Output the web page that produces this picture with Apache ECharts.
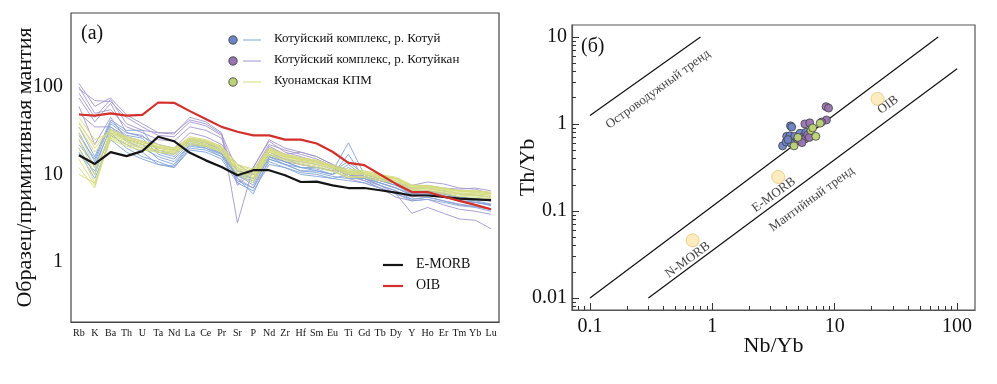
<!DOCTYPE html>
<html>
<head>
<meta charset="utf-8">
<script src="https://cdn.jsdelivr.net/npm/echarts@6/dist/echarts.min.js"></script>
<style>
html,body{margin:0;padding:0;background:#fff;}
#chart{width:997px;height:384px;}
</style>
</head>
<body>
<div id="chart"></div>
<script>
// ---------- Panel (a): spider diagram ----------
const categories = ['Rb','K','Ba','Th','U','Ta','Nd','La','Ce','Pr','Sr','P','Nd','Zr','Hf','Sm','Eu','Ti','Gd','Tb','Dy','Y','Ho','Er','Tm','Yb','Lu'];
const spiderTicks = [1, 10, 100];

const emorb = [16.6,13.2,18,16.2,18.5,27,24,17.7,14.5,12.2,9.8,11.2,11.2,9.8,8.2,8.3,7.5,7.0,7.0,6.6,6.2,5.75,5.75,5.55,5.3,5.2,5.1];
const oib   = [48.5,47,50,47,48,66.5,66,53,43,35,30.8,28,28,25,25,22.6,18.2,13.6,12.8,10,7.8,6.3,6.3,5.6,5.0,4.5,4.0];

const kotuy = [
  [35,16,42,32,32,18,16,24,22,18,10,8,17,14,12,12,11,23,10,9,8,6.5,6.5,6,5.5,5.2,5],
  [25,12,35,25,22,15,13,22,20,17,9,6,15,13,11,11,10,17,9,8,7,5.8,6,5.5,5,4.8,4.5],
  [20,10,30,20,16,14,12,20,19,16,8.5,7,14,12,10.5,10,9,10,8.5,7.5,6.5,5.2,5.5,5,4.5,4.3,4],
  [30,14,38,28,26,17,15,23,21,17.5,9.5,8.5,16,13,12,11.5,10,12,9.5,8.5,7.5,6,6.2,5.8,5.2,5,4.6],
  [17,11,28,22,18,13,12.5,21,20,16,10,9,15,13,11,10.5,9.5,9,9,8,7,5.8,6,5.6,5,4.8,4.4],
  [28,15,40,30,28,19,17,25,23,19,11,10,17,15,13,12,11,14,10,9,8,6.8,7,6.5,6,5.8,5.5],
  [22,13,33,24,20,16,14,22,21,17,10,7.5,16,14,12,11,10,13,9.5,8.5,7.5,6.2,6.5,6,5.5,5.3,5],
  [18,9,25,18,15,13,12,19,18,15,8,6.5,13,12,10,9.5,9,8.5,8,7,6,5,5.2,4.8,4.4,4.2,3.8]
];
const kotuykan = [
  [110,60,75,48,38,30,29,45,40,30,2.8,12,25,20,18,16,13,10,9,7.5,6,3.6,4.2,3.6,3.1,3.0,2.4],
  [95,70,68,45,35,28,27,40,36,28,8,12,24,18,16,14,12,9.5,8.5,7,5.5,5,5.2,4.5,4,3.8,3.5],
  [75,40,65,30,27,22,20,30,27,22,13,10,20,17,18,16,13,11,10,9,8,7,7.5,7,6.8,7,6.5],
  [60,22,45,25,22,18,17,26,24,20,9,7,16,14,13,12,11,9,8,7,6,5.2,5.5,5,4.6,4.3,4],
  [50,35,35,27,24,20,19,25,23,19,11,9,18,15,14,13,11.5,10,9.5,8.5,8,7.5,8.2,7.8,7,6.8,6],
  [100,50,55,35,30,25,24,35,32,26,7.5,11,22,19,17,15,12.5,10,9,7.5,6.5,5.5,6,5.5,5,4.8,4.5],
  [85,45,72,38,32,30,30,42,38,29,11,10,21,17,15,14,12,10.5,9.5,8,7,6,6.5,6.2,5.5,5.2,5]
];
const kuonam = [
  [45,25,30,25,22,20,19,25,23,20,12,10,19,16,15,14,12,10.5,10.5,9.5,9,7.5,7.2,6.8,6.5,6.5,6.3],
  [40,20,33,27,24,21,20,27,25,21,13,11,20,17,15.5,14.5,12.5,11,11,10,9,7.5,7.5,7,6.5,6.3,6],
  [30,12,28,24,21,19,18,24,22,19,11,9,18,15.5,14,13,11.5,10,10,9,8.5,7,7,6.5,6,6,5.8],
  [20,8,27,23,20,18,17.5,23,21.5,18.5,10.5,8.5,17,15,13.5,12.5,11,9.5,9.5,8.8,8.2,6.8,6.6,6.2,5.8,5.7,5.5],
  [15,7.5,26,22,20,19,18,24,22,19,11.5,9.5,18,16,14.5,13.5,12,10.5,10,9.2,8.5,7,6.8,6.4,6,5.8,5.6],
  [12,7,30,26,23,21,19.5,26,24,20,12.5,10.5,19.5,16.5,15,14,12.2,11,10.5,9.6,9,7.4,7.2,6.8,6.4,6.2,6],
  [35,18,29,25,22,20,18.5,25,23.5,20,12,9,18.5,16,14.5,13.5,12,10.2,10.2,9.4,8.8,7.2,7,6.6,6.2,6,5.8],
  [25,10,31,27,24,22,20,26,24.5,21,13,11.5,20,17,15.5,14.5,12.8,11.5,11,10,9.3,7.6,7.4,7,6.6,6.5,6.2],
  [10,8,25,21,19,18,17,22,21,18,10,8,16.5,14.5,13,12,10.8,9.2,9.2,8.5,8,6.6,6.4,6,5.6,5.5,5.3],
  [38,22,32,26,23,20.5,19,25.5,24,20.5,12,10,19,16.5,15,14,12.3,10.8,10.6,9.7,9,7.4,7.3,6.9,6.5,6.4,6.2]
];

// ---------- Panel (б): Th/Yb vs Nb/Yb ----------
const xMajor = [0.1, 1, 10, 100];
const xMinor = [0.08,0.09,0.2,0.3,0.4,0.5,0.6,0.7,0.8,0.9,2,3,4,5,6,7,8,9,20,30,40,50,60,70,80,90];
const yMajor = [0.01, 0.1, 1, 10];
const yMinor = [0.008,0.009,0.02,0.03,0.04,0.05,0.06,0.07,0.08,0.09,0.2,0.3,0.4,0.5,0.6,0.7,0.8,0.9,2,3,4,5,6,7,8,9];

const arcTrend = [[0.1,1.25],[0.8,10]];
const upperArray = [[0.1,0.01],[70,10]];
const lowerArray = [[0.3,0.01],[100,4.3]];

const refPoints = [[0.69,0.046],[3.45,0.246],[22.4,1.94]];

const ptsKotuy = [[3.75,0.56],[4.0,0.62],[4.05,0.72],[4.3,0.73],[4.35,0.95],[4.45,0.92],[4.55,0.66],[4.7,0.72],[4.85,0.63],[4.4,0.6],[5.2,0.78],[5.5,0.71],[5.8,0.8],[4.15,0.66]];
const ptsKotuykan = [[5.7,1.0],[6.25,1.03],[8.5,1.58],[8.9,1.52],[8.55,1.11],[7.8,1.05],[5.2,0.65],[5.7,0.67],[5.4,0.61],[6.0,0.75],[6.2,0.7]];
const ptsKuonam = [[4.65,0.56],[6.4,0.84],[7.0,0.72],[7.6,1.02],[6.6,0.9],[5.0,0.7]];

const fieldLabels = [
  {name:'Островодужный тренд', value:[0.36,2.5]},
  {name:'N-MORB', value:[0.63,0.0273]},
  {name:'E-MORB', value:[3.18,0.153]},
  {name:'Мантийный тренд', value:[6.5,0.137]},
  {name:'OIB', value:[27.2,1.65]}
];

// ---------- Styles ----------
const SERIF = '"Liberation Serif","DejaVu Serif",serif';
const C_BLUE = '#82a4d8', C_PURPLE = '#a497cc', C_GREEN = '#d5dc7c';

const series = [];
function addLines(arr, color, name){
  arr.forEach(function(d){
    series.push({type:'line', name:name, xAxisIndex:0, yAxisIndex:0, data:d, showSymbol:false, silent:true,
      lineStyle:{color:color, width:1, opacity:0.9}, z:2, animation:false});
  });
}
addLines(kotuykan, C_PURPLE, 'Котуйкан');
addLines(kotuy, C_BLUE, 'Котуй');
addLines(kuonam, C_GREEN, 'Куонам');
series.push({type:'line', name:'E-MORB', xAxisIndex:0, yAxisIndex:0, data:emorb, showSymbol:false, silent:true,
  lineStyle:{color:'#151515', width:2.2}, z:5, animation:false});
series.push({type:'line', name:'OIB', xAxisIndex:0, yAxisIndex:0, data:oib, showSymbol:false, silent:true,
  lineStyle:{color:'#d4302b', width:2.2}, z:5, animation:false});

[arcTrend, upperArray, lowerArray].forEach(function(l){
  series.push({type:'line', xAxisIndex:1, yAxisIndex:1, data:l, showSymbol:false, silent:true,
    lineStyle:{color:'#111', width:1.2}, animation:false});
});
series.push({type:'scatter', xAxisIndex:1, yAxisIndex:1, data:refPoints, symbolSize:13, silent:true,
  itemStyle:{color:'#fde7ad', borderColor:'#e6c67c', borderWidth:1}, animation:false, z:3});
function addPts(arr, color){
  series.push({type:'scatter', xAxisIndex:1, yAxisIndex:1, data:arr, symbolSize:8, silent:true,
    itemStyle:{color:color, borderColor:'#3a3a3a', borderWidth:0.8, opacity:0.95}, animation:false, z:4});
}
addPts(ptsKotuy, '#6f84c6');
addPts(ptsKotuykan, '#9a74b2');
addPts(ptsKuonam, '#bcd276');
series.push({type:'scatter', xAxisIndex:1, yAxisIndex:1, data:fieldLabels, symbolSize:0, silent:true,
  label:{show:true, position:'inside', formatter:'{b}', rotate:36, fontFamily:SERIF, fontSize:13, color:'#111'},
  animation:false, z:6});

const tickLabelStyle = {fontFamily:SERIF, color:'#111'};

const option = {
  backgroundColor:'#fff',
  animation:false,
  grid:[
    {left:71, top:13, width:428, height:309, show:true, borderColor:'#444', borderWidth:1.2, backgroundColor:'transparent'},
    {left:572, top:25, width:403, height:285, show:true, borderColor:'#555', borderWidth:1.2, backgroundColor:'transparent'}
  ],
  xAxis:[
    {type:'category', gridIndex:0, data:categories, boundaryGap:true,
      axisLine:{lineStyle:{color:'#444', width:1.2}},
      axisTick:{inside:true, alignWithLabel:true, length:6, interval:0, lineStyle:{color:'#333'}},
      axisLabel:Object.assign({interval:0, fontSize:10, margin:6}, tickLabelStyle),
      splitLine:{show:false}},
    {type:'log', gridIndex:1, min:0.0713, max:140, logBase:10,
      name:'Nb/Yb', nameLocation:'middle', nameGap:25, nameMoveOverlap:false,
      nameTextStyle:{fontFamily:SERIF, fontSize:22, color:'#111'},
      axisLine:{lineStyle:{color:'#555', width:1.2}},
      axisTick:{inside:true, length:7, customValues:xMajor, lineStyle:{color:'#333'}},
      axisLabel:Object.assign({fontSize:20, margin:7, customValues:xMajor}, tickLabelStyle),
      splitLine:{show:false}, minorTick:{show:false}},
    {type:'log', gridIndex:1, min:0.0713, max:140, logBase:10, position:'bottom',
      axisLine:{show:false},
      axisTick:{inside:true, length:4, customValues:xMinor, lineStyle:{color:'#333'}},
      axisLabel:{show:false}, splitLine:{show:false}}
  ],
  yAxis:[
    {type:'log', gridIndex:0, min:0.206, max:701, logBase:10,
      name:'Образец/примитивная мантия', nameLocation:'middle', nameGap:35, nameRotate:90, nameMoveOverlap:false,
      nameTextStyle:{fontFamily:SERIF, fontSize:22, color:'#111'},
      axisLine:{lineStyle:{color:'#777', width:2}},
      axisTick:{inside:true, length:6, customValues:spiderTicks, lineStyle:{color:'#333'}},
      axisLabel:Object.assign({fontSize:20, margin:8, customValues:spiderTicks}, tickLabelStyle),
      splitLine:{show:false}},
    {type:'log', gridIndex:1, min:0.00728, max:13.7, logBase:10,
      name:'Th/Yb', nameLocation:'middle', nameGap:33, nameRotate:90, nameMoveOverlap:false,
      nameTextStyle:{fontFamily:SERIF, fontSize:22, color:'#111'},
      axisLine:{lineStyle:{color:'#555', width:1.2}},
      axisTick:{inside:true, length:7, customValues:yMajor, lineStyle:{color:'#333'}},
      axisLabel:Object.assign({fontSize:20, margin:5, customValues:yMajor}, tickLabelStyle),
      splitLine:{show:false}},
    {type:'log', gridIndex:1, min:0.00728, max:13.7, logBase:10, position:'left',
      axisLine:{show:false},
      axisTick:{inside:true, length:4, customValues:yMinor, lineStyle:{color:'#333'}},
      axisLabel:{show:false}, splitLine:{show:false}}
  ],
  graphic:[
    {type:'text', left:81, top:24, style:{text:'(a)', font:'20px '+SERIF, fill:'#111'}},
    {type:'text', left:581, top:37, style:{text:'(б)', font:'20px '+SERIF, fill:'#111'}},
    // upper legend
    {type:'circle', shape:{cx:233, cy:40, r:4.2}, style:{fill:'#6f84c6', stroke:'#333', lineWidth:0.8}},
    {type:'line', shape:{x1:243, y1:40, x2:261, y2:40}, style:{stroke:C_BLUE, lineWidth:1}},
    {type:'text', left:274, top:32, style:{text:'Котуйский комплекс, р. Котуй', font:'13px '+SERIF, fill:'#111'}},
    {type:'circle', shape:{cx:233, cy:61, r:4.2}, style:{fill:'#9a74b2', stroke:'#333', lineWidth:0.8}},
    {type:'line', shape:{x1:243, y1:61, x2:261, y2:61}, style:{stroke:C_PURPLE, lineWidth:1}},
    {type:'text', left:274, top:53, style:{text:'Котуйский комплекс, р. Котуйкан', font:'13px '+SERIF, fill:'#111'}},
    {type:'circle', shape:{cx:233, cy:82, r:4.2}, style:{fill:'#bcd276', stroke:'#333', lineWidth:0.8}},
    {type:'line', shape:{x1:243, y1:82, x2:261, y2:82}, style:{stroke:C_GREEN, lineWidth:1}},
    {type:'text', left:274, top:74, style:{text:'Куонамская КПМ', font:'13px '+SERIF, fill:'#111'}},
    // lower legend
    {type:'line', shape:{x1:383, y1:265, x2:403, y2:265}, style:{stroke:'#151515', lineWidth:2.2}},
    {type:'text', left:416, top:257, style:{text:'E-MORB', font:'14px '+SERIF, fill:'#111'}},
    {type:'line', shape:{x1:383, y1:286, x2:403, y2:286}, style:{stroke:'#d4302b', lineWidth:2.2}},
    {type:'text', left:416, top:278, style:{text:'OIB', font:'14px '+SERIF, fill:'#111'}}
  ],
  series:series
};

const chart = echarts.init(document.getElementById('chart'), null, {renderer:'canvas'});
chart.setOption(option);
</script>
</body>
</html>
